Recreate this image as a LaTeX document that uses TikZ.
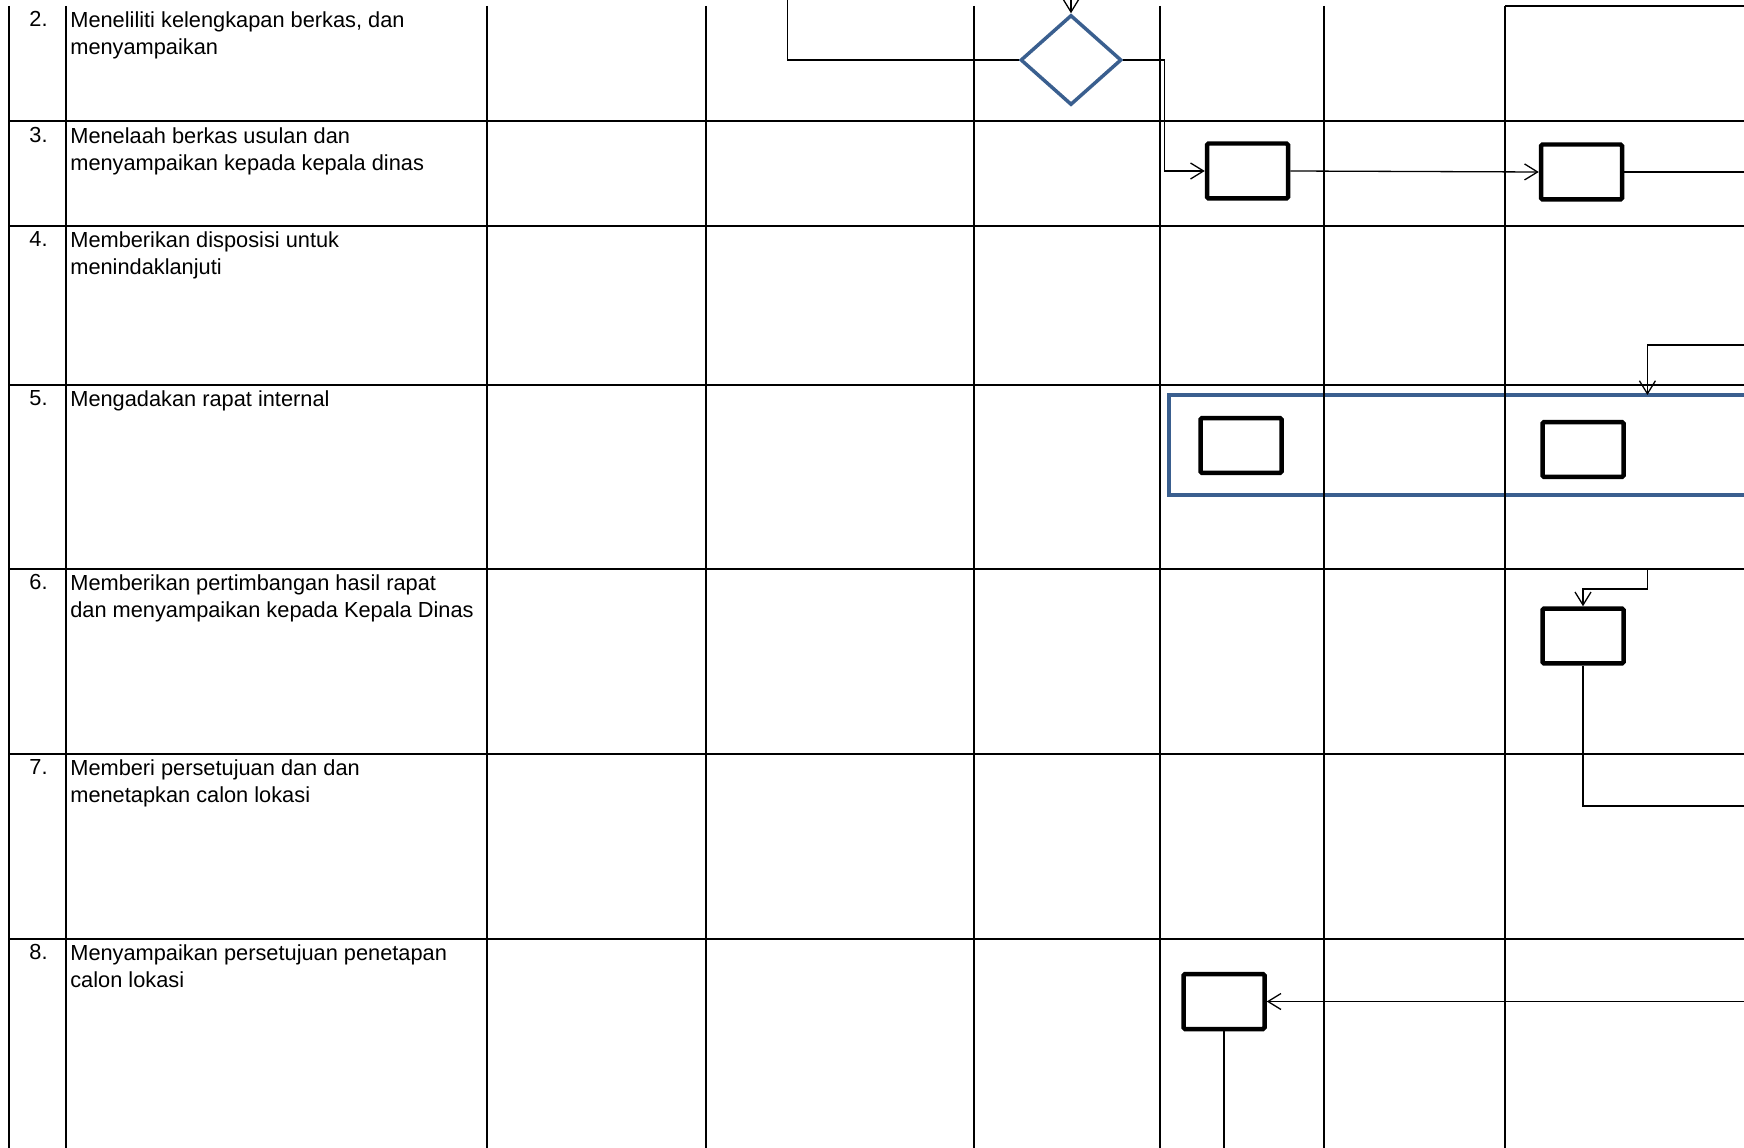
\documentclass[tikz,border=0pt]{standalone}
\usepackage{fontspec}
\setmainfont{Liberation Sans}
\usetikzlibrary{shapes.geometric, arrows.meta, positioning}
\definecolor{laneblue}{RGB}{58,95,143}

\begin{document}
\begin{tikzpicture}[
      x=0.02cm, y=-0.02cm,
      font=\fontsize{12.4pt}{15.4pt}\selectfont,
      grid/.style={line width=0.04cm, draw=black},
      task/.style={rectangle, rounded corners=0.03cm, draw=black, line width=0.09cm,
                   fill=white, minimum width=1.62cm, minimum height=1.1cm, inner sep=0pt},
      decide/.style={diamond, draw=laneblue, line width=0.07cm, fill=white,
                     minimum width=2.02cm, minimum height=1.8cm, inner sep=0pt},
      grp/.style={rectangle, draw=laneblue, line width=0.07cm, outer sep=0pt, inner sep=0pt},
      num/.style={anchor=north east, inner sep=0pt},
      desc/.style={anchor=north west, inner sep=0pt, align=left},
      link/.style={draw=black, line width=0.026cm},
      arr/.style={-{Straight Barb[length=0.26cm, width=0.32cm]}, draw=black, line width=0.026cm}
    ]
    \useasboundingbox (0,0) rectangle (1744,1148);
    \clip (0,0) rectangle (1744,1148);

    % meeting group
    \node[grp, anchor=north west, minimum width=11.9cm, minimum height=2cm] (rapat) at (1169,395) {};

    % table
    \foreach \gx in {9,66,487,706,974,1160,1324,1505}
      \draw[grid] (\gx,6) -- (\gx,1160);
    \foreach \gy in {121,226,385,569,754,939}
      \draw[grid] (8,\gy) -- (1760,\gy);
    \draw[grid] (1505,6) -- (1760,6);

    % activities
    \node[num]  (n2) at (48,11)  {2.};
    \node[desc] (t2) at (70,11)  {Meneliliti kelengkapan berkas, dan\\menyampaikan};
    \node[num]  (n3) at (48,127) {3.};
    \node[desc] (t3) at (70,127) {Menelaah berkas usulan dan\\menyampaikan kepada kepala dinas};
    \node[num]  (n4) at (48,231) {4.};
    \node[desc] (t4) at (70,231) {Memberikan disposisi untuk\\menindaklanjuti};
    \node[num]  (n5) at (48,390) {5.};
    \node[desc] (t5) at (70,390) {Mengadakan rapat internal};
    \node[num]  (n6) at (48,574) {6.};
    \node[desc] (t6) at (70,574) {Memberikan pertimbangan hasil rapat\\dan menyampaikan kepada Kepala Dinas};
    \node[num]  (n7) at (48,759) {7.};
    \node[desc] (t7) at (70,759) {Memberi persetujuan dan dan\\menetapkan calon lokasi};
    \node[num]  (n8) at (48,944) {8.};
    \node[desc] (t8) at (70,944) {Menyampaikan persetujuan penetapan\\calon lokasi};

    % flow shapes
    \node[decide] (cek) at (1071,60) {};
    \node[task] (b3a) at (1247.5,171) {};
    \node[task] (b3c) at (1581.5,172) {};
    \node[task] (b5a) at (1241,445.5) {};
    \node[task] (b5c) at (1583,449.5) {};
    \node[task] (b6c) at (1583,636) {};
    \node[task] (b8a) at (1224,1001.5) {};

    % loose ends
    \coordinate (inA) at (787.5,-5);
    \coordinate (inB) at (1071,-5);
    \coordinate (out3) at (1760,172);
    \coordinate (in5) at (1760,345);
    \coordinate (in6) at (1647.5,570);
    \coordinate (out6) at (1760,806);
    \coordinate (in8) at (1760,1001.5);
    \coordinate (out8) at (1224,1160);

    % connectors
    \draw[link] (inA) |- (cek.west);
    \draw[arr] (inB) -- (cek.north);
    \draw[arr] (cek.east) -- ++(41,0) |- (b3a.west);
    \draw[arr] (b3a.east) -- (b3c.west);
    \draw[link] (b3c.east) -- (out3);
    \draw[arr] (in5) -| ([xshift=9.57cm]rapat.north west);
    \draw[arr] (in6) -- ++(0,19) -| (b6c.north);
    \draw[link] (b6c.south) |- (out6);
    \draw[arr] (in8) -- (b8a.east);
    \draw[link] (b8a.south) -- (out8);
  \end{tikzpicture}
\end{document}
